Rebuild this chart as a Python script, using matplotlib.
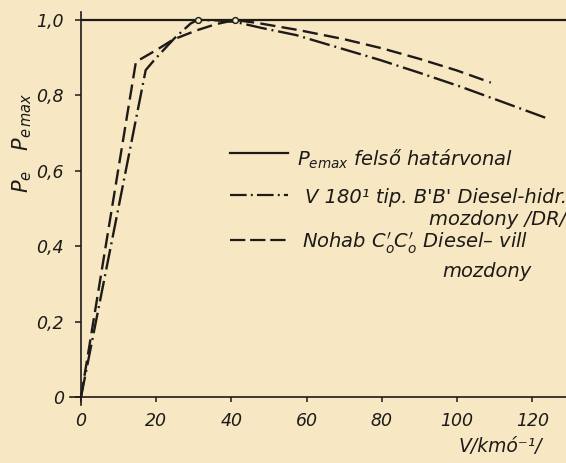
import matplotlib
matplotlib.use("Agg")
import matplotlib.pyplot as plt

# ---- data ----
x_ticks = [0, 20, 40, 60, 80, 100, 120]
x_tick_labels = ["0", "20", "40", "60", "80", "100", "120"]
y_ticks = [0, 0.2, 0.4, 0.6, 0.8, 1.0]
y_tick_labels = ["0", "0,2", "0,4", "0,6", "0,8", "1,0"]

pemax_level = 1.0

# V 180 tip. B'B' Diesel-hidr. mozdony (dash-dot)
v180_v = [0, 17.2, 19.5, 24.8, 29.2, 31.0, 36.0, 41.0, 48.0, 57.2, 68.0, 79.5, 90.0, 101.0, 112.0, 124.0]
v180_p = [0, 0.867, 0.894, 0.951, 0.991, 1.0, 0.999, 0.995, 0.979, 0.960, 0.928, 0.894, 0.860, 0.823, 0.783, 0.739]

# Nohab C'oC'o Diesel-vill. mozdony (dashed)
nohab_v = [0, 14.6, 20.0, 24.5, 30.6, 35.9, 41.0, 47.0, 58.0, 70.0, 80.0, 90.0, 100.0, 109.0]
nohab_p = [0, 0.889, 0.920, 0.948, 0.972, 0.989, 1.0, 0.992, 0.973, 0.949, 0.925, 0.897, 0.866, 0.834]

peak_v = [31.0, 41.0]
peak_p = [1.0, 1.0]

# ---- style ----
paper = "#f7e7c3"
ink = "#1d1b18"
plt.rcParams["lines.scale_dashes"] = False
plt.rcParams["font.family"] = ["DejaVu Sans"]
plt.rcParams["mathtext.fontset"] = "dejavusans"

fig = plt.figure(figsize=(5.66, 4.63), dpi=100, facecolor=paper)
# axes box in pixels: left 70, right 566, top 12, bottom 405
ax = fig.add_axes([70 / 566, (463 - 405) / 463, 496 / 566, 393 / 463])
ax.set_facecolor(paper)

x0 = (70 - 81) / 3.76
x1 = (566 - 81) / 3.76
ax.set_xlim(x0, x1)
ax.set_ylim((397 - 405) / 377, (397 - 12) / 377)

for s in ("top", "right"):
    ax.spines[s].set_visible(False)
ax.spines["left"].set_position(("data", 0))
ax.spines["bottom"].set_position(("data", 0))
for s in ("left", "bottom"):
    ax.spines[s].set_linewidth(1.2)
    ax.spines[s].set_color(ink)

ax.set_xticks(x_ticks)
ax.set_xticklabels(x_tick_labels, fontstyle="italic", fontsize=12.5, color=ink)
ax.set_yticks(y_ticks)
ax.set_yticklabels(y_tick_labels, fontstyle="italic", fontsize=12.5, color=ink)
ax.tick_params(axis="x", direction="out", length=3.8, width=1.1, pad=7, colors=ink)
ax.tick_params(axis="y", direction="out", length=4.3, width=1.1, pad=8, colors=ink)

# curves
ax.hlines(pemax_level, 0, x1, color=ink, lw=1.6, zorder=3)
ln_v180, = ax.plot(v180_v, v180_p, color=ink, lw=1.7, zorder=4)
ln_v180.set_dashes((15, 3.5, 1.4, 3.5))
ln_nohab, = ax.plot(nohab_v, nohab_p, color=ink, lw=1.7, zorder=4)
ln_nohab.set_dashes((11, 4.5))
ax.plot(peak_v, peak_p, linestyle="none", marker="o", markersize=4.2,
        markerfacecolor=paper, markeredgecolor=ink, markeredgewidth=1.0, zorder=5)

# legend (hand-drawn style)
def axx(px):
    return (px - 70) / 496

def axy(py):
    return (405 - py) / 393

lx = [axx(230), axx(288)]
l1, = ax.plot(lx, [axy(153)] * 2, color=ink, lw=1.6, transform=ax.transAxes)
l2, = ax.plot(lx, [axy(195)] * 2, color=ink, lw=1.6, transform=ax.transAxes)
l2.set_dashes((12, 3, 1.4, 3))
l3, = ax.plot(lx, [axy(240)] * 2, color=ink, lw=1.6, transform=ax.transAxes)
l3.set_dashes((11, 3.5))

tkw = dict(transform=ax.transAxes, fontsize=14, fontstyle="italic", color=ink, va="baseline")
ax.text(axx(297), axy(166), r"$P_{emax}$ felső határvonal", ha="left", **tkw)
ax.text(axx(305), axy(203), "V 180¹ tip. B'B' Diesel-hidr.", ha="left", **tkw)
ax.text(axx(566), axy(225), "mozdony /DR/", ha="right", **tkw)
ax.text(axx(302), axy(248), r"Nohab $C_o'C_o'$ Diesel– vill", ha="left", **tkw)
ax.text(axx(532), axy(277), "mozdony", ha="right", **tkw)

# axis labels
ax.set_ylabel(r"$P_e\ \ \ P_{e\,max}$", fontsize=15, color=ink, va="center", ha="center")
ax.yaxis.set_label_coords(axx(22), axy(143))
ax.set_xlabel("V/kmó⁻¹/", fontsize=13.5, fontstyle="italic", color=ink, va="center", ha="center")
ax.xaxis.set_label_coords(axx(500), axy(447))

fig.savefig("out.png", dpi=100, facecolor=paper)
